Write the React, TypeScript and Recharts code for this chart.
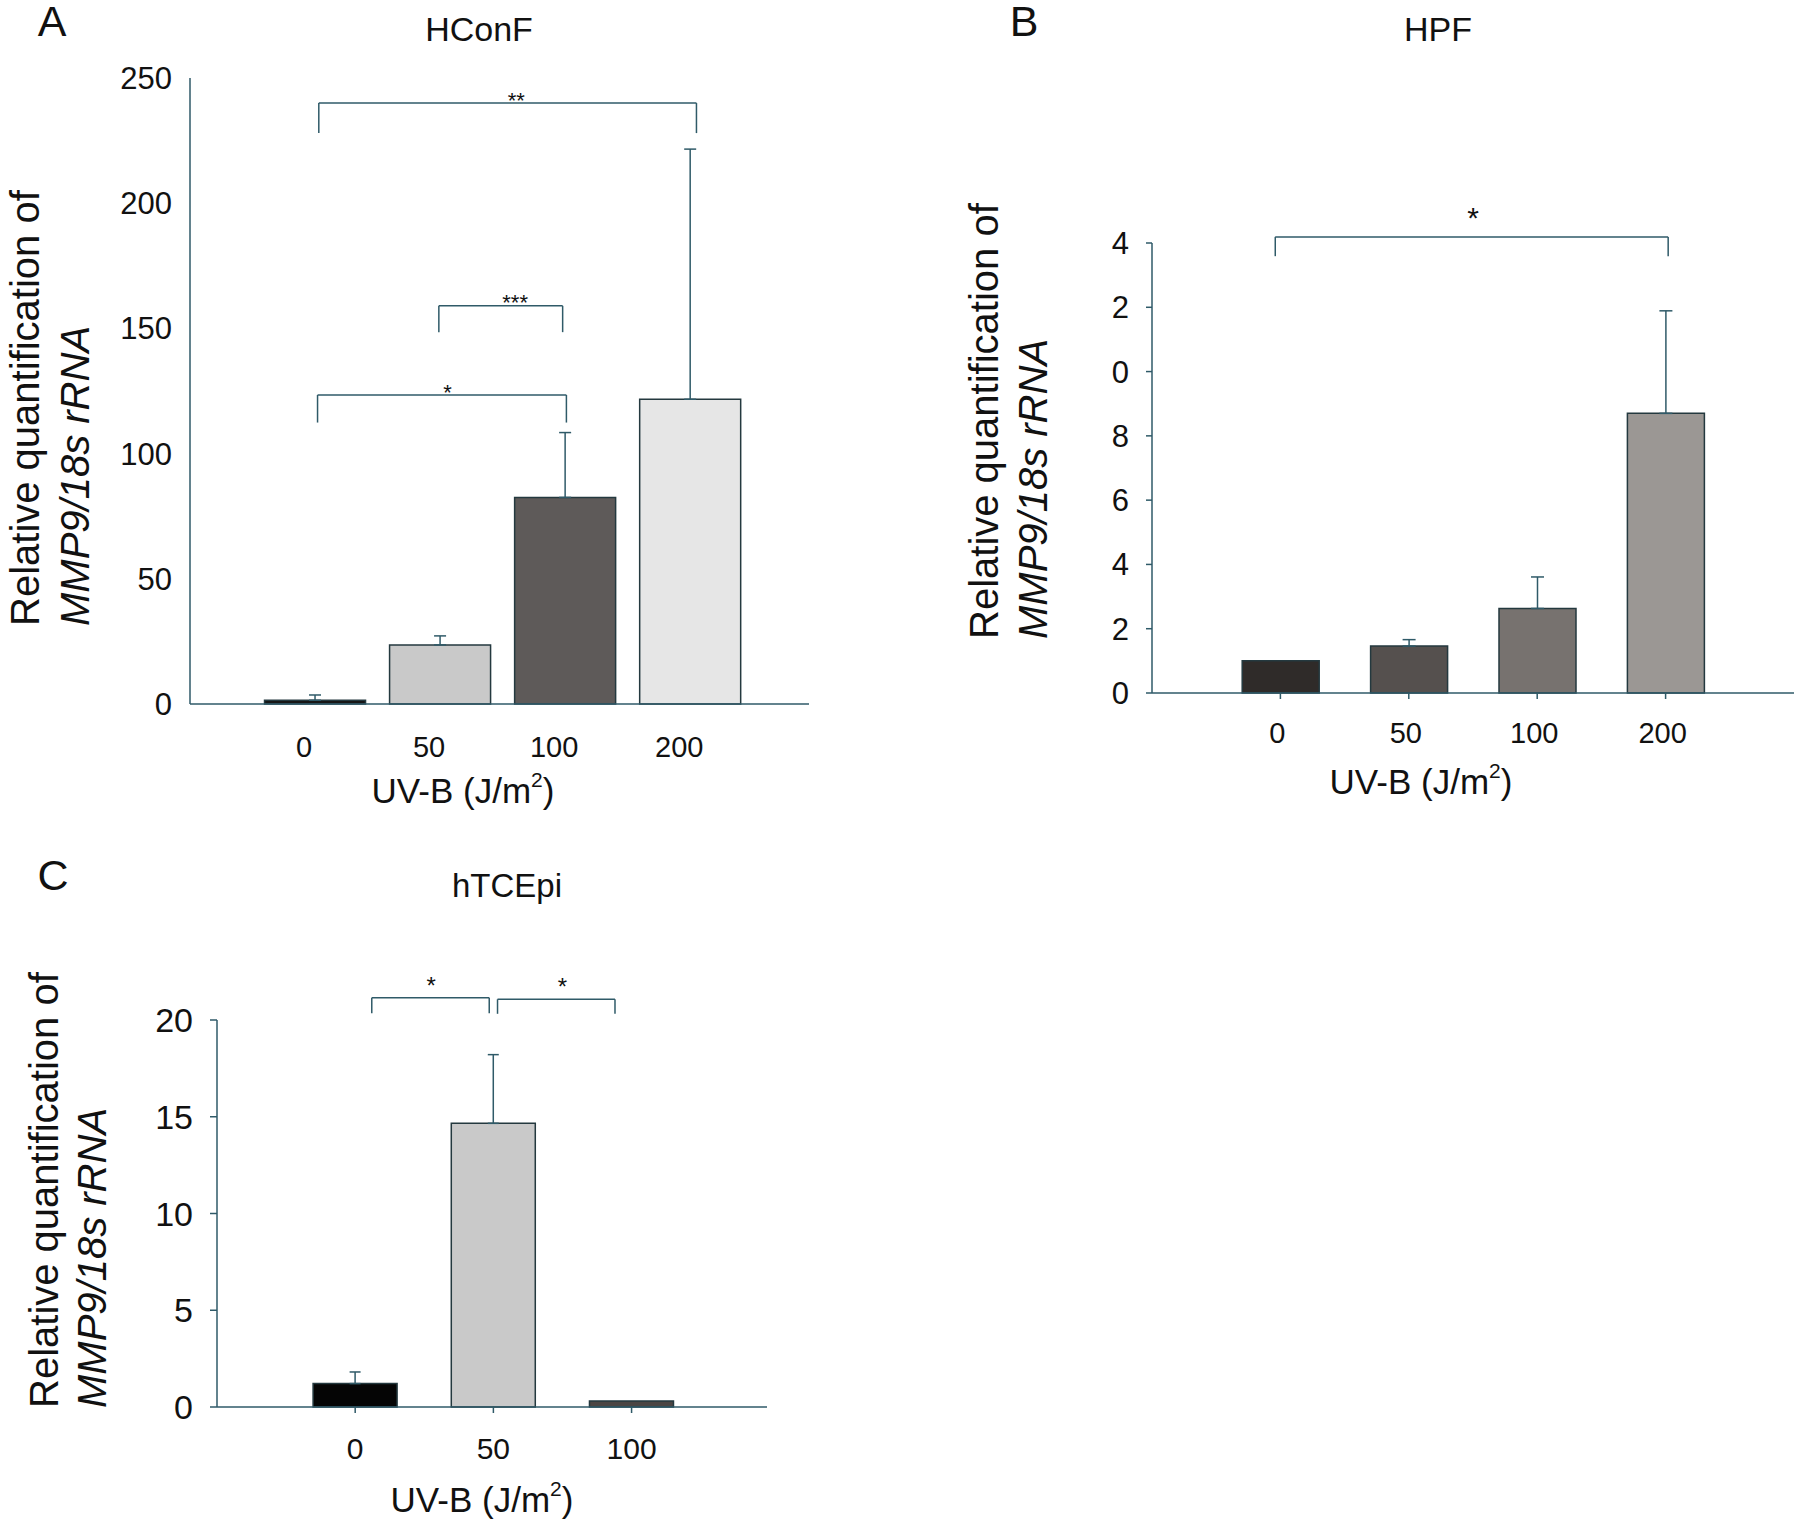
import React from "react";
import {
  BarChart,
  Bar,
  Cell,
  XAxis,
  YAxis,
  ErrorBar,
  ReferenceLine,
  ReferenceDot,
} from "recharts";

const FONT = '"Liberation Sans", Arial, Helvetica, sans-serif';
const AXIS = "#2f5a68";
const EDGE = "#24393f";
const INK = "#111111";

// A — HConF
const DOSES_A = ["0", "50", "100", "200"];
const MEAN_A = [1.5, 23.6, 82.5, 121.7];
const SEM_A = [2.1, 3.6, 25.9, 99.9];
const FILL_A = ["#161616", "#c9c9c9", "#5e5a59", "#e6e6e6"];
const YTICKS_A = [0, 50, 100, 150, 200, 250];
const BRACKETS_A = [
  { from: 0.03, to: 3.05, y: 240, drop: 12, stars: "**", starX: 1.61 },
  { from: 0.99, to: 1.98, y: 159, drop: 10.5, stars: "***", starX: 1.6 },
  { from: 0.02, to: 2.01, y: 123.4, drop: 11, stars: "*", starX: 1.06 },
];

// B — HPF (the printed tick labels lost their leading "1")
const DOSES_B = ["0", "50", "100", "200"];
const MEAN_B = [1.0, 1.46, 2.63, 8.7];
const SEM_B = [0, 0.2, 0.98, 3.19];
const FILL_B = ["#2f2b29", "#55504e", "#77726f", "#9b9794"];
const YTICKS_B = [0, 2, 4, 6, 8, 10, 12, 14];
const YLABELS_B = ["0", "2", "4", "6", "8", "0", "2", "4"];
const BRACKETS_B = [{ from: -0.04, to: 3.02, y: 14.19, drop: 0.6, stars: "*", starX: 1.5 }];

// C — hTCEpi
const DOSES_C = ["0", "50", "100"];
const MEAN_C = [1.21, 14.66, 0.31];
const SEM_C = [0.6, 3.55, 0];
const FILL_C = ["#050505", "#c9c9c9", "#4b4543"];
const YTICKS_C = [0, 5, 10, 15, 20];
const BRACKETS_C = [
  { from: 0.12, to: 0.97, y: 21.15, drop: 0.8, stars: "*", starX: 0.55 },
  { from: 1.03, to: 1.88, y: 21.07, drop: 0.75, stars: "*", starX: 1.5 },
];

type Bracket = { from: number; to: number; y: number; drop: number; stars: string; starX: number };

function YTitle({ lx1, lx2, ly, size }: any) {
  return (
    <g>
      <text
        x={lx1}
        y={ly}
        transform={`rotate(-90 ${lx1} ${ly})`}
        textAnchor="start"
        dominantBaseline="central"
        fontSize={size}
        fontFamily={FONT}
        fill={INK}
      >
        Relative quantification of
      </text>
      <text
        x={lx2}
        y={ly}
        transform={`rotate(-90 ${lx2} ${ly})`}
        textAnchor="start"
        dominantBaseline="central"
        fontSize={size}
        fontStyle="italic"
        fontFamily={FONT}
        fill={INK}
      >
        MMP9/18s rRNA
      </text>
    </g>
  );
}

function XTitle({ lx, ly, size }: any) {
  return (
    <text x={lx} y={ly} textAnchor="middle" dominantBaseline="central" fontSize={size} fontFamily={FONT} fill={INK}>
      <tspan>UV-B (J/m</tspan>
      <tspan dy={-size * 0.32} fontSize={size * 0.6}>2</tspan>
      <tspan dy={size * 0.32}>)</tspan>
    </text>
  );
}

function Overlay({ x, y, size, children }: any) {
  return (
    <div
      style={{
        position: "absolute",
        left: x,
        top: y,
        transform: "translate(-50%, -50%)",
        fontSize: size,
        lineHeight: 1,
        whiteSpace: "nowrap",
        fontFamily: FONT,
        color: INK,
      }}
    >
      {children}
    </div>
  );
}

function Panel(p: any) {
  const data = p.doses.map((d: string, i: number) => ({
    x: i,
    dose: d,
    mean: p.means[i],
    err: p.sems[i] > 0 ? [0, p.sems[i]] : null,
  }));
  const brackets: Bracket[] = p.brackets;
  return (
    <div style={{ position: "absolute", left: p.left, top: p.top, width: p.width, height: p.height }}>
      <BarChart width={p.width} height={p.height} data={data} margin={p.margin}>
        <XAxis
          type="number"
          dataKey="x"
          domain={p.xDomain}
          ticks={data.map((d: any) => d.x)}
          tickFormatter={(v: number) => p.doses[v] ?? ""}
          height={60}
          axisLine={{ stroke: AXIS, strokeWidth: 1.5 }}
          tickLine={p.xTickSize > 0 ? { stroke: AXIS, strokeWidth: 1.5 } : false}
          tickSize={p.xTickSize}
          tickMargin={p.xTickMargin}
          tick={{ fontSize: p.xTickFont, fill: INK, fontFamily: FONT, dx: p.xTickDx }}
          label={<XTitle lx={p.xTitle[0]} ly={p.xTitle[1]} size={35} />}
        />
        <YAxis
          type="number"
          domain={p.yDomain}
          ticks={p.yTicks}
          interval={0}
          tickFormatter={(v: number, i: number) => (p.yLabels ? p.yLabels[i] : String(v))}
          width={80}
          axisLine={{ stroke: AXIS, strokeWidth: 1.5 }}
          tickLine={p.yTickSize > 0 ? { stroke: AXIS, strokeWidth: 1.5 } : false}
          tickSize={p.yTickSize}
          tickMargin={p.yTickMargin}
          tick={{ fontSize: p.yTickFont, fill: INK, fontFamily: FONT }}
          label={<YTitle lx1={p.yTitle[0]} lx2={p.yTitle[1]} ly={p.yTitle[2]} size={40} />}
        />
        <Bar dataKey="mean" barSize={p.barSize} stroke={EDGE} strokeWidth={1.5} isAnimationActive={false}>
          {data.map((_: any, i: number) => (
            <Cell key={i} fill={p.fills[i]} />
          ))}
          <ErrorBar dataKey="err" direction="y" width={p.capHalf} stroke={AXIS} strokeWidth={1.5} isAnimationActive={false} />
        </Bar>
        {brackets.flatMap((b, i) => [
          <ReferenceLine
            key={`h${i}`}
            segment={[{ x: b.from, y: b.y }, { x: b.to, y: b.y }]}
            stroke={AXIS}
            strokeWidth={1.5}
            ifOverflow="visible"
          />,
          <ReferenceLine
            key={`l${i}`}
            segment={[{ x: b.from, y: b.y }, { x: b.from, y: b.y - b.drop }]}
            stroke={AXIS}
            strokeWidth={1.5}
            ifOverflow="visible"
          />,
          <ReferenceLine
            key={`r${i}`}
            segment={[{ x: b.to, y: b.y }, { x: b.to, y: b.y - b.drop }]}
            stroke={AXIS}
            strokeWidth={1.5}
            ifOverflow="visible"
          />,
          <ReferenceDot
            key={`s${i}`}
            x={b.starX}
            y={b.y}
            r={0}
            ifOverflow="visible"
            shape={(s: any) => (
              <text x={s.cx} y={s.cy + p.starDy} textAnchor="middle" fontSize={p.starSize} fontFamily={FONT} fill={INK}>
                {b.stars}
              </text>
            )}
          />,
        ])}
      </BarChart>
      <Overlay x={p.letter[0]} y={p.letter[1]} size={43}>
        {p.letterText}
      </Overlay>
      <Overlay x={p.title[0]} y={p.title[1]} size={p.titleSize}>
        {p.titleText}
      </Overlay>
    </div>
  );
}

export default function App() {
  return (
    <div style={{ position: "absolute", left: 0, top: 0, width: 1800, height: 1527, background: "#fff" }}>
      <Panel
        left={0}
        top={0}
        width={900}
        height={830}
        margin={{ top: 78, right: 91, bottom: 66, left: 110 }}
        doses={DOSES_A}
        means={MEAN_A}
        sems={SEM_A}
        fills={FILL_A}
        brackets={BRACKETS_A}
        xDomain={[-1, 3.95]}
        yDomain={[0, 250]}
        yTicks={YTICKS_A}
        barSize={101}
        capHalf={6}
        xTickSize={0}
        xTickMargin={32}
        xTickFont={29}
        xTickDx={-11}
        yTickSize={0}
        yTickMargin={18}
        yTickFont={31}
        yTitle={[25, 75, 626]}
        xTitle={[463, 790]}
        starSize={22}
        starDy={4.5}
        letterText="A"
        letter={[52, 21]}
        titleText="HConF"
        title={[479, 29]}
        titleSize={34}
      />
      <Panel
        left={900}
        top={0}
        width={900}
        height={830}
        margin={{ top: 243, right: 6, bottom: 77, left: 172 }}
        doses={DOSES_B}
        means={MEAN_B}
        sems={SEM_B}
        fills={FILL_B}
        brackets={BRACKETS_B}
        xDomain={[-1, 4]}
        yDomain={[0, 14]}
        yTicks={YTICKS_B}
        yLabels={YLABELS_B}
        barSize={77}
        capHalf={6.5}
        xTickSize={6}
        xTickMargin={23}
        xTickFont={29}
        xTickDx={-3}
        yTickSize={6}
        yTickMargin={17}
        yTickFont={31}
        yTitle={[83.5, 133, 639]}
        xTitle={[521, 781]}
        starSize={30}
        starDy={-8.5}
        letterText="B"
        letter={[124, 21]}
        titleText="HPF"
        title={[538, 29]}
        titleSize={34}
      />
      <Panel
        left={0}
        top={830}
        width={900}
        height={697}
        margin={{ top: 190, right: 133, bottom: 60, left: 137 }}
        doses={DOSES_C}
        means={MEAN_C}
        sems={SEM_C}
        fills={FILL_C}
        brackets={BRACKETS_C}
        xDomain={[-1, 2.98]}
        yDomain={[0, 20]}
        yTicks={YTICKS_C}
        barSize={84}
        capHalf={5.5}
        xTickSize={6}
        xTickMargin={25}
        xTickFont={30}
        xTickDx={0}
        yTickSize={7}
        yTickMargin={17}
        yTickFont={34}
        yTitle={[44, 92, 578]}
        xTitle={[482, 669]}
        starSize={24}
        starDy={-4}
        letterText="C"
        letter={[53, 45]}
        titleText="hTCEpi"
        title={[507, 55]}
        titleSize={33}
      />
    </div>
  );
}
